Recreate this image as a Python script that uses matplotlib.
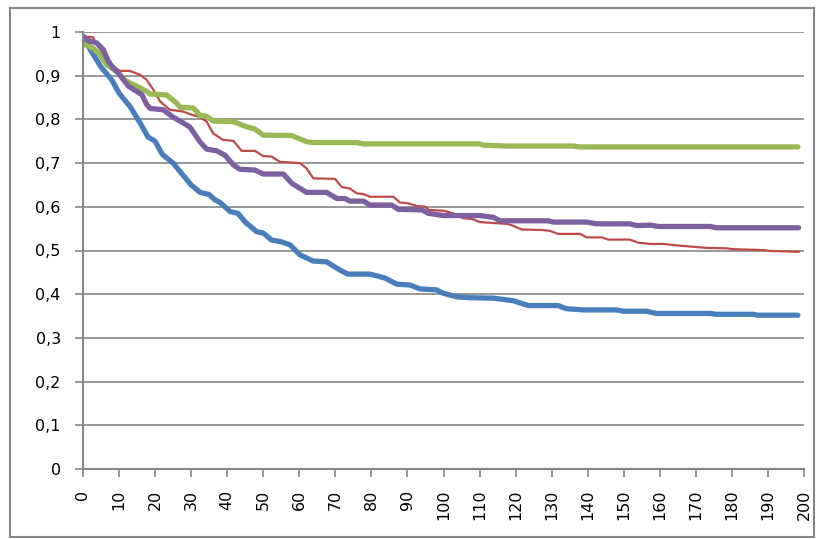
import matplotlib.pyplot as plt
from matplotlib.patches import Rectangle
from matplotlib.ticker import FuncFormatter

# curves (x = time, y = share remaining)
blue_x = [0, 2, 5, 8, 10, 13, 16, 18, 20, 22, 25, 28, 30, 32.5, 35, 36.6, 38, 40.8, 43, 45, 48.2, 50, 52.3, 55, 57.4, 60.2, 63.8, 67.6, 71.3, 73.5, 79.6, 83.8, 87, 90.7, 93.5, 98, 100, 103.7, 107.4, 113.8, 119.4, 123.5, 131.8, 134, 138.8, 148, 150, 156.3, 159, 174, 175.7, 186, 187, 198.3]
blue_y = [0.99, 0.96, 0.92, 0.89, 0.86, 0.83, 0.79, 0.76, 0.75, 0.72, 0.70, 0.67, 0.65, 0.633, 0.628, 0.616, 0.61, 0.589, 0.585, 0.565, 0.543, 0.54, 0.524, 0.52, 0.513, 0.49, 0.476, 0.474, 0.455, 0.446, 0.446, 0.437, 0.423, 0.421, 0.412, 0.41, 0.402, 0.394, 0.392, 0.391, 0.385, 0.374, 0.374, 0.367, 0.364, 0.364, 0.361, 0.361, 0.356, 0.356, 0.354, 0.354, 0.352, 0.352]

red_x = [0, 2.8, 3.8, 5.2, 6.6, 8.4, 10.3, 13, 15.8, 17.6, 19.5, 21.4, 24.1, 27.8, 29.7, 32.5, 34.3, 36.1, 38.9, 41.7, 44, 47.7, 50, 52.3, 54.6, 60.2, 62, 63.9, 69.9, 71.8, 74, 75.9, 77.8, 79.6, 86.1, 87.9, 90.2, 92.5, 95, 95.8, 100, 102.7, 105.5, 108, 110.1, 117.5, 118.9, 121.7, 127.2, 129.5, 131.8, 137.9, 139.7, 143.9, 145.7, 151.7, 154, 157.3, 161, 165.6, 173, 178.5, 180.4, 188.7, 190.6, 198.5]
red_y = [0.99, 0.988, 0.971, 0.956, 0.937, 0.921, 0.911, 0.911, 0.902, 0.891, 0.868, 0.841, 0.822, 0.818, 0.812, 0.805, 0.795, 0.768, 0.753, 0.751, 0.728, 0.728, 0.716, 0.715, 0.703, 0.70, 0.688, 0.665, 0.664, 0.645, 0.642, 0.631, 0.629, 0.623, 0.623, 0.61, 0.608, 0.602, 0.60, 0.593, 0.591, 0.585, 0.574, 0.572, 0.565, 0.561, 0.558, 0.548, 0.547, 0.545, 0.538, 0.538, 0.53, 0.53, 0.525, 0.525, 0.518, 0.515, 0.515, 0.511, 0.506, 0.505, 0.503, 0.501, 0.499, 0.497]

green_x = [0, 2.8, 4.7, 6.6, 9.3, 12.1, 14.9, 17.7, 18.6, 23.2, 26, 26.9, 30.6, 32.5, 34.3, 36.2, 41.7, 45.4, 47.7, 50, 57.9, 62, 63.9, 75.9, 77.8, 110, 111, 117.5, 136, 137.9, 198.3]
green_y = [0.973, 0.963, 0.948, 0.925, 0.91, 0.887, 0.876, 0.864, 0.858, 0.856, 0.837, 0.828, 0.826, 0.809, 0.807, 0.796, 0.795, 0.783, 0.778, 0.764, 0.763, 0.749, 0.747, 0.747, 0.744, 0.744, 0.741, 0.739, 0.739, 0.737, 0.737]

purple_x = [0, 1.9, 3.8, 5.6, 7, 8.4, 9.8, 11.2, 12.6, 14.9, 16.3, 17.7, 18.6, 22.3, 25, 27.8, 29.7, 31.1, 32.5, 34.3, 37.1, 39.4, 41.7, 43.5, 47.7, 50, 55.6, 57.9, 60.2, 62, 67.6, 70.4, 72.7, 74, 77.8, 79.6, 85.6, 87.5, 94, 95.8, 100, 110, 113.8, 115.7, 129, 130.5, 139.7, 142.5, 151.7, 153.6, 157.3, 159.6, 174, 175.7, 198.5]
purple_y = [0.99, 0.979, 0.975, 0.96, 0.933, 0.918, 0.906, 0.891, 0.876, 0.864, 0.857, 0.834, 0.825, 0.822, 0.805, 0.792, 0.782, 0.765, 0.748, 0.732, 0.728, 0.718, 0.696, 0.686, 0.684, 0.675, 0.675, 0.654, 0.642, 0.633, 0.633, 0.619, 0.619, 0.613, 0.613, 0.604, 0.604, 0.594, 0.593, 0.585, 0.58, 0.58, 0.576, 0.568, 0.568, 0.565, 0.565, 0.561, 0.561, 0.557, 0.558, 0.555, 0.555, 0.552, 0.552]

x_ticks = list(range(0, 201, 10))
y_ticks = [0, 0.1, 0.2, 0.3, 0.4, 0.5, 0.6, 0.7, 0.8, 0.9, 1]

plt.rcParams['font.family'] = ['DejaVu Sans']
grey = '#868686'

fig = plt.figure(figsize=(8.17, 5.39), dpi=100)
ax = fig.add_axes([83 / 817, 1 - 469 / 539, 721 / 817, 437 / 539])

# outer chart border like Excel
fig.patches.append(Rectangle((10 / 817, 2 / 539), 804 / 817, 529 / 539,
                             transform=fig.transFigure, fill=False,
                             edgecolor=grey, lw=1.5))

ax.plot(blue_x, blue_y, color='#4A7EBB', lw=3.8, solid_capstyle='round', solid_joinstyle='round')
ax.plot(red_x, red_y, color='#BE4B48', lw=1.6, solid_joinstyle='round')
ax.plot(green_x, green_y, color='#98B954', lw=3.8, solid_capstyle='round', solid_joinstyle='round')
ax.plot(purple_x, purple_y, color='#7D60A0', lw=3.8, solid_capstyle='round', solid_joinstyle='round')

ax.set_xlim(0, 200)
ax.set_ylim(0, 1)
ax.set_xticks(x_ticks)
ax.set_yticks(y_ticks)
ax.yaxis.set_major_formatter(FuncFormatter(lambda v, p: ('%g' % round(v, 1)).replace('.', ',')))
ax.tick_params(axis='x', labelrotation=90, labelsize=11.5, length=6, color=grey, width=1.2, pad=9)
ax.tick_params(axis='y', labelsize=11.5, length=6, color=grey, width=1.2, pad=10)

ax.grid(axis='y', color=grey, lw=1.2)
ax.set_axisbelow(True)
for s in ['top', 'right']:
    ax.spines[s].set_visible(False)
for s in ['left', 'bottom']:
    ax.spines[s].set_color(grey)
    ax.spines[s].set_linewidth(1.5)

fig.savefig('out.png', dpi=100)
